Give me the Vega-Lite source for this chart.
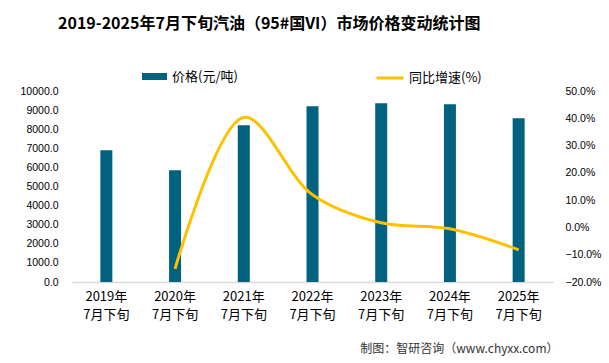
{
  "$schema": "https://vega.github.io/schema/vega-lite/v6.json",
  "width": 481,
  "height": 191,
  "autosize": {"type": "none"},
  "padding": {"left": 72, "top": 91, "right": 56, "bottom": 81},
  "background": "white",
  "config": {"view": {"stroke": null}},
  "title": {
    "text": "2019-2025年7月下旬汽油（95#国VI）市场价格变动统计图",
    "anchor": "start",
    "frame": "group",
    "dx": -14,
    "offset": 31,
    "font": "Noto Sans CJK SC",
    "fontSize": 16,
    "fontWeight": "bold",
    "color": "#000000"
  },
  "data": {
    "values": [
      {"period": "2019年7月下旬", "price": 6900, "growth": null},
      {"period": "2020年7月下旬", "price": 5850, "growth": -0.152},
      {"period": "2021年7月下旬", "price": 8205, "growth": 0.403},
      {"period": "2022年7月下旬", "price": 9200, "growth": 0.12},
      {"period": "2023年7月下旬", "price": 9355, "growth": 0.017},
      {"period": "2024年7月下旬", "price": 9305, "growth": -0.005},
      {"period": "2025年7月下旬", "price": 8570, "growth": -0.082}
    ]
  },
  "encoding": {
    "x": {
      "field": "period",
      "type": "nominal",
      "sort": null,
      "title": "制图：智研咨询（www.chyxx.com）",
      "axis": {
        "labelAngle": 0,
        "labelExpr": "[slice(datum.label, 0, 5), slice(datum.label, 5)]",
        "labelFont": "Noto Sans CJK SC",
        "labelFontSize": 13,
        "labelColor": "#000000",
        "labelLineHeight": 18,
        "labelPadding": 8,
        "ticks": false,
        "domainColor": "#d9d9d9",
        "domainWidth": 1.5,
        "titleFont": "Noto Sans CJK SC",
        "titleFontSize": 12,
        "titleFontWeight": "normal",
        "titleColor": "#333333",
        "titleAnchor": "end",
        "titleAlign": "right",
        "titleBaseline": "alphabetic",
        "titleX": 486,
        "titleY": 70
      }
    }
  },
  "layer": [
    {
      "mark": {"type": "bar", "size": 12},
      "encoding": {
        "y": {
          "field": "price",
          "type": "quantitative",
          "scale": {"domain": [0, 10000]},
          "axis": {
            "title": null,
            "values": [0, 1000, 2000, 3000, 4000, 5000, 6000, 7000, 8000, 9000, 10000],
            "format": ".1f",
            "grid": false,
            "domain": false,
            "ticks": false,
            "labelPadding": 14,
            "labelFont": "Liberation Sans",
            "labelFontSize": 10.5,
            "labelColor": "#000000"
          }
        },
        "color": {
          "datum": "价格(元/吨)",
          "type": "nominal",
          "scale": {"range": ["#00627f"]},
          "legend": {
            "orient": "none",
            "legendX": 69,
            "legendY": -28,
            "title": null,
            "symbolType": "M-1,-0.28H1V0.28H-1Z",
            "symbolSize": 625,
            "labelFont": "Noto Sans CJK SC",
            "labelFontSize": 13,
            "labelColor": "#000000",
            "labelOffset": 4
          }
        }
      }
    },
    {
      "transform": [{"filter": "datum.growth != null"}],
      "mark": {"type": "line", "interpolate": "catmull-rom", "strokeWidth": 3},
      "encoding": {
        "y": {
          "field": "growth",
          "type": "quantitative",
          "scale": {"domain": [-0.2, 0.5]},
          "axis": {
            "orient": "right",
            "title": null,
            "values": [-0.2, -0.1, 0, 0.1, 0.2, 0.3, 0.4, 0.5],
            "format": ".1%",
            "grid": false,
            "domain": false,
            "ticks": false,
            "labelPadding": 12,
            "labelFont": "Liberation Sans",
            "labelFontSize": 10.5,
            "labelColor": "#000000"
          }
        },
        "color": {
          "datum": "同比增速(%)",
          "type": "nominal",
          "scale": {"range": ["#ffc000"]},
          "legend": {
            "orient": "none",
            "legendX": 303,
            "legendY": -28,
            "title": null,
            "symbolType": "stroke",
            "symbolSize": 729,
            "symbolStrokeWidth": 3,
            "labelFont": "Noto Sans CJK SC",
            "labelFontSize": 13,
            "labelColor": "#000000",
            "labelOffset": 4
          }
        }
      }
    }
  ],
  "resolve": {
    "scale": {"y": "independent", "color": "independent"},
    "legend": {"color": "independent"}
  }
}
